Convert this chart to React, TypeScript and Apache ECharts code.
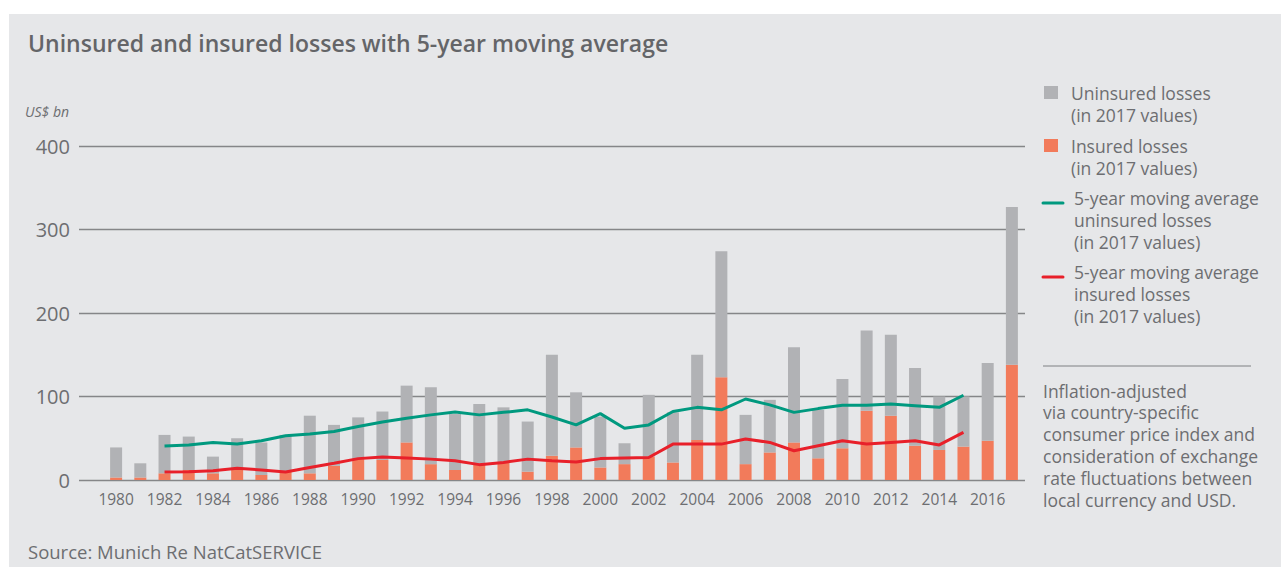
import React, { useEffect, useRef } from "react";
import * as echarts from "echarts";

const years = [
  "1980","1981","1982","1983","1984","1985","1986","1987","1988","1989",
  "1990","1991","1992","1993","1994","1995","1996","1997","1998","1999",
  "2000","2001","2002","2003","2004","2005","2006","2007","2008","2009",
  "2010","2011","2012","2013","2014","2015","2016","2017",
];

const insuredLosses = [
  3, 3, 8, 12, 8, 12, 6, 10, 8, 17,
  25, 24, 45, 19, 12, 20, 21, 10, 29, 39,
  15, 19, 28, 21, 48, 123, 19, 33, 45, 26,
  38, 83, 77, 41, 36, 40, 47, 138,
];

const uninsuredLosses = [
  36, 17, 46, 40, 20, 38, 39, 44, 69, 49,
  50, 58, 68, 92, 67, 71, 66, 60, 121, 66,
  61, 25, 74, 60, 102, 151, 59, 63, 114, 58,
  83, 96, 97, 93, 64, 60, 93, 189,
];

const maUninsured = [
  null, null, 40.8, 42, 45, 43, 47, 53, 55, 58,
  64, 69.5, 74, 78, 81.5, 78, 81, 84, 75.5, 66,
  79.5, 62, 66, 82, 87, 84, 97, 90, 81, 85.5,
  89.5, 89.5, 91, 89, 87, 101.5, null, null,
];

const maInsured = [
  null, null, 9.6, 10, 11, 14, 12, 9.6, 15, 20,
  25.6, 27.6, 26.4, 25, 23, 18.4, 21, 25, 23, 21.6,
  25.6, 26.4, 27, 43, 43, 43, 49, 45, 35, 41,
  47, 43, 45, 47, 42, 57, null, null,
];

const yTicks = { min: 0, max: 400, interval: 100 };

const titleText = "Uninsured and insured losses with 5-year moving average";
const unitText = "US$ bn";
const sourceText = "Source: Munich Re NatCatSERVICE";
const legendTexts = [
  "Uninsured losses\n(in 2017 values)",
  "Insured losses\n(in 2017 values)",
  "5-year moving average\nuninsured losses\n(in 2017 values)",
  "5-year moving average\ninsured losses\n(in 2017 values)",
];
const noteText =
  "Inflation-adjusted\nvia country-specific\nconsumer price index and\nconsideration of exchange\nrate fluctuations between\nlocal currency and USD.";

const FONT = "'Open Sans', 'Noto Sans', sans-serif";
const TEXT = "#6d6e71";
const GRAY = "#b1b2b5";
const ORANGE = "#f27b5b";
const GREEN = "#00997f";
const RED = "#e8202a";

export default function App() {
  const ref = useRef<HTMLDivElement>(null);

  useEffect(() => {
    if (!ref.current) return;
    const chart = echarts.init(ref.current, null, { renderer: "svg" });
    const gridTop = 146;
    const gridHeight = 334;

    const legendText = (y: number, x: number, t: string) => ({
      type: "text",
      x,
      y,
      style: {
        text: t,
        fill: TEXT,
        font: `17.5px ${FONT}`,
        lineHeight: 22,
        verticalAlign: "middle",
        align: "left",
      },
    });

    chart.setOption({
      animation: false,
      backgroundColor: "#ffffff",
      textStyle: { fontFamily: FONT },
      grid: [
        { left: 79, top: gridTop, width: 946, height: gridHeight },
        { left: 104, top: gridTop, width: 920, height: gridHeight },
      ],
      xAxis: [
        { type: "value", gridIndex: 0, show: false, min: 0, max: 1 },
        {
          type: "category",
          gridIndex: 1,
          data: years,
          boundaryGap: true,
          axisLine: { show: false },
          axisTick: { show: false },
          axisLabel: {
            interval: 1,
            color: TEXT,
            fontSize: 15.5,
            fontFamily: FONT,
            margin: 11,
          },
        },
      ],
      yAxis: [
        {
          type: "value",
          gridIndex: 0,
          min: yTicks.min,
          max: yTicks.max,
          interval: yTicks.interval,
          axisLine: { show: false },
          axisTick: { show: false },
          axisLabel: { color: TEXT, fontSize: 20, fontFamily: FONT, margin: 9 },
          splitLine: { lineStyle: { color: "#858688", width: 1.3 } },
        },
        {
          type: "value",
          gridIndex: 1,
          min: yTicks.min,
          max: yTicks.max,
          show: false,
          splitLine: { show: false },
        },
      ],
      series: [
        {
          name: "Insured losses (in 2017 values)",
          type: "bar",
          xAxisIndex: 1,
          yAxisIndex: 1,
          stack: "loss",
          barWidth: 12,
          itemStyle: { color: ORANGE },
          data: insuredLosses,
          z: 2,
        },
        {
          name: "Uninsured losses (in 2017 values)",
          type: "bar",
          xAxisIndex: 1,
          yAxisIndex: 1,
          stack: "loss",
          barWidth: 12,
          itemStyle: { color: GRAY },
          data: uninsuredLosses,
          z: 2,
        },
        {
          name: "5-year moving average uninsured losses (in 2017 values)",
          type: "line",
          xAxisIndex: 1,
          yAxisIndex: 1,
          showSymbol: false,
          symbol: "none",
          lineStyle: { color: GREEN, width: 3 },
          data: maUninsured,
          z: 5,
        },
        {
          name: "5-year moving average insured losses (in 2017 values)",
          type: "line",
          xAxisIndex: 1,
          yAxisIndex: 1,
          showSymbol: false,
          symbol: "none",
          lineStyle: { color: RED, width: 3 },
          data: maInsured,
          z: 5,
        },
      ],
      graphic: [
        {
          type: "rect",
          z: -10,
          shape: { x: 9, y: 14, width: 1272, height: 553 },
          style: { fill: "#e6e7e9" },
          silent: true,
        },
        {
          type: "text",
          x: 28,
          y: 43,
          style: {
            text: titleText,
            fill: "#646568",
            font: `600 23px ${FONT}`,
            verticalAlign: "middle",
          },
        },
        {
          type: "text",
          x: 25,
          y: 111,
          style: {
            text: unitText,
            fill: TEXT,
            font: `italic 14px ${FONT}`,
            verticalAlign: "middle",
          },
        },
        {
          type: "text",
          x: 28,
          y: 551,
          style: {
            text: sourceText,
            fill: TEXT,
            font: `18.5px ${FONT}`,
            verticalAlign: "middle",
          },
        },
        { type: "rect", shape: { x: 1044, y: 86, width: 14, height: 13 }, style: { fill: GRAY } },
        { type: "rect", shape: { x: 1044, y: 139, width: 14, height: 13 }, style: { fill: ORANGE } },
        {
          type: "line",
          shape: { x1: 1043, y1: 203, x2: 1063, y2: 203 },
          style: { stroke: GREEN, lineWidth: 3, lineCap: "round" },
        },
        {
          type: "line",
          shape: { x1: 1043, y1: 277, x2: 1063, y2: 277 },
          style: { stroke: RED, lineWidth: 3, lineCap: "round" },
        },
        legendText(104, 1071, legendTexts[0]),
        legendText(157, 1071, legendTexts[1]),
        legendText(220, 1074, legendTexts[2]),
        legendText(294, 1074, legendTexts[3]),
        {
          type: "line",
          shape: { x1: 1043, y1: 366, x2: 1251, y2: 366 },
          style: { stroke: "#7f8083", lineWidth: 1 },
        },
        {
          type: "text",
          x: 1043,
          y: 445,
          style: {
            text: noteText,
            fill: TEXT,
            font: `17.5px ${FONT}`,
            lineHeight: 21.8,
            verticalAlign: "middle",
            align: "left",
          },
        },
      ],
    });

    return () => chart.dispose();
  }, []);

  return (
    <div
      style={{
        position: "fixed",
        left: 0,
        top: 0,
        width: 1281,
        height: 571,
        background: "#ffffff",
      }}
    >
      <div ref={ref} style={{ width: 1281, height: 571 }} />
    </div>
  );
}
